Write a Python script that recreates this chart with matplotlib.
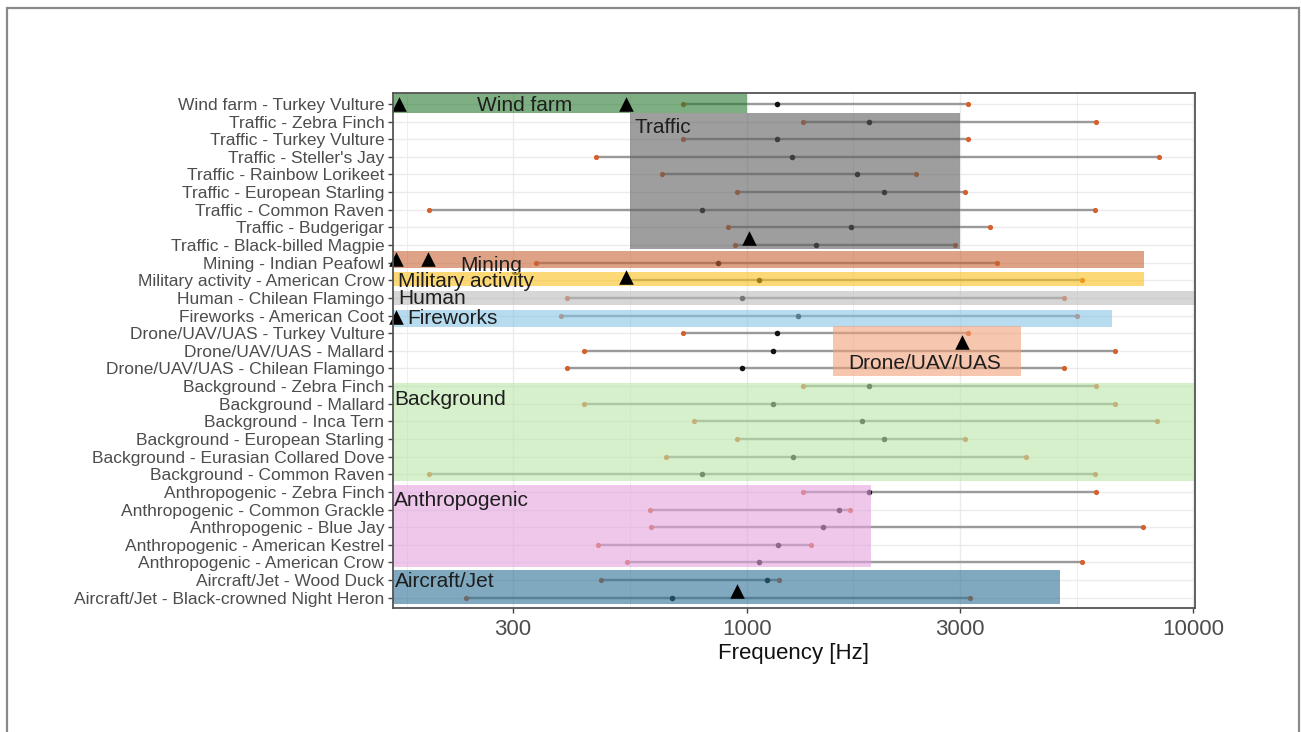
import numpy as np
import matplotlib
matplotlib.use("Agg")
import matplotlib.pyplot as plt
from matplotlib.patches import Rectangle

# ---------------- data (rows listed top to bottom) ----------------
row_labels = [
    "Wind farm - Turkey Vulture",
    "Traffic - Zebra Finch",
    "Traffic - Turkey Vulture",
    "Traffic - Steller's Jay",
    "Traffic - Rainbow Lorikeet",
    "Traffic - European Starling",
    "Traffic - Common Raven",
    "Traffic - Budgerigar",
    "Traffic - Black-billed Magpie",
    "Mining - Indian Peafowl",
    "Military activity - American Crow",
    "Human - Chilean Flamingo",
    "Fireworks - American Coot",
    "Drone/UAV/UAS - Turkey Vulture",
    "Drone/UAV/UAS - Mallard",
    "Drone/UAV/UAS - Chilean Flamingo",
    "Background - Zebra Finch",
    "Background - Mallard",
    "Background - Inca Tern",
    "Background - European Starling",
    "Background - Eurasian Collared Dove",
    "Background - Common Raven",
    "Anthropogenic - Zebra Finch",
    "Anthropogenic - Common Grackle",
    "Anthropogenic - Blue Jay",
    "Anthropogenic - American Kestrel",
    "Anthropogenic - American Crow",
    "Aircraft/Jet - Wood Duck",
    "Aircraft/Jet - Black-crowned Night Heron",
]
hear_min = [719, 1335, 719, 459, 648, 950, 194, 907, 942, 337, 540, 397, 385,
            719, 432, 397, 1335, 432, 763, 950, 660, 194, 1335, 607, 611, 465,
            540, 471, 235]
hear_peak = [1170, 1882, 1170, 1262, 1769, 2027, 793, 1710, 1430, 864, 1064,
             976, 1305, 1170, 1144, 976, 1882, 1144, 1809, 2027, 1272, 793,
             1882, 1609, 1484, 1177, 1064, 1109, 679]
hear_max = [3135, 6046, 3135, 8365, 2398, 3082, 6024, 3505, 2922, 3628, 5625,
            5143, 5501, 3135, 6689, 5143, 6046, 6689, 8292, 3082, 4214, 6024,
            6046, 1703, 7702, 1393, 5625, 1181, 3162]

# noise-source frequency bands (None = extends to the panel edge)
noise_names = ["Wind farm", "Traffic", "Mining", "Military activity", "Human",
               "Fireworks", "Drone/UAV/UAS", "Background", "Anthropogenic",
               "Aircraft/Jet"]
noise_fmin = [None, 548, None, None, None, None, 1563, None, None, None]
noise_fmax = [1000, 3000, 7750, 7750, None, 6585, 4108, None, 1900, 5030]
noise_ylo = [28.49, 20.76, 19.67, 18.67, 17.59, 16.36, 13.57, 7.60, 2.73, 0.63]
noise_yhi = [29.80, 28.49, 20.65, 19.48, 18.40, 17.31, 16.40, 13.20, 7.41, 2.55]
noise_label_x = [249, 562, 229, 166, 166, 174, 1689, 163, 162, 163]
noise_label_y = [28.58, 27.34, 19.53, 18.63, 17.63, 16.54, 13.97, 11.90, 6.18, 1.62]

# noise peak frequencies (triangles)
peak_group = ["Wind farm", "Wind farm", "Traffic", "Mining", "Mining",
              "Military activity", "Fireworks", "Drone/UAV/UAS", "Aircraft/Jet"]
peak_freq = [167, 538, 1013, 164, 193, 538, 164, 3030, 950]
peak_y = [29.0, 29.0, 21.41, 20.23, 20.23, 19.18, 16.93, 15.48, 1.36]

# ---------------- styles ----------------
band_colors = {
    "Wind farm": "#267a2f",
    "Traffic": "#5d5d5d",
    "Mining": "#c86437",
    "Military activity": "#fac11b",
    "Human": "#bbbbbb",
    "Fireworks": "#87c5e6",
    "Drone/UAV/UAS": "#f0a078",
    "Background": "#bbe6aa",
    "Anthropogenic": "#e3a3df",
    "Aircraft/Jet": "#2b6e93",
}
FONT = "Liberation Sans"
plt.rcParams["font.family"] = [FONT, "DejaVu Sans"]

W, H, DPI = 1301, 732, 100
fig = plt.figure(figsize=(W / DPI, H / DPI), dpi=DPI)
fig.patch.set_facecolor("white")

# outer frame
fig.patches.append(Rectangle((7 / W, -0.05), (1299 - 7) / W, (H - 8) / H + 0.05,
                             transform=fig.transFigure, fill=False,
                             ec="#8a8a8a", lw=1.6, zorder=0))

left, right, top, bottom = 392.7, 1195, 93.3, 608.3
ax = fig.add_axes([left / W, 1 - bottom / H, (right - left) / W, (bottom - top) / H])

n = len(row_labels)
ys = np.array([n - i for i in range(n)], dtype=float)

ax.set_xscale("log")
xlo, xhi = 161.3, 10088
ax.set_xlim(xlo, xhi)
ax.set_ylim(0.4, n + 0.6)

# grid
ax.set_xticks([300, 1000, 3000, 10000])
ax.set_xticklabels(["300", "1000", "3000", "10000"])
ax.set_xticks([173.2, 547.7, 1732, 5477], minor=True)
ax.set_yticks(ys)
ax.set_yticklabels(row_labels)
ax.grid(which="major", color="#ebebeb", lw=1.0, zorder=0)
ax.grid(which="minor", axis="x", color="#ebebeb", lw=0.6, zorder=0)
ax.set_axisbelow(True)

# segments and points
for y, lo, pk, hi in zip(ys, hear_min, hear_peak, hear_max):
    ax.plot([lo, hi], [y, y], color="#9a9a9a", lw=1.7, solid_capstyle="butt", zorder=2)
ax.scatter(hear_min, ys, s=14, color="#d4602c", zorder=3, linewidths=0)
ax.scatter(hear_max, ys, s=14, color="#d4602c", zorder=3, linewidths=0)
ax.scatter(hear_peak, ys, s=16, color="#111111", zorder=3, linewidths=0)

# bands + labels (drawn top to bottom so later bands overlay earlier text)
for k, name in enumerate(noise_names):
    x0 = noise_fmin[k] if noise_fmin[k] is not None else xlo * 0.5
    x1 = noise_fmax[k] if noise_fmax[k] is not None else xhi * 2
    z = 4 + 2 * k
    ax.add_patch(Rectangle((x0, noise_ylo[k]), x1 - x0, noise_yhi[k] - noise_ylo[k],
                           facecolor=band_colors[name], alpha=0.6, lw=0, zorder=z))
    ax.text(noise_label_x[k], noise_label_y[k], name, ha="left", va="baseline",
            fontsize=15, color="#1e1e1e", zorder=z + 1)

ax.scatter(peak_freq, peak_y, marker="^", s=110, color="black", zorder=40,
           linewidths=0, clip_on=False)

# axes styling
for s in ax.spines.values():
    s.set_color("#555555")
    s.set_linewidth(1.3)
    s.set_zorder(50)
ax.tick_params(axis="y", which="major", length=3.5, width=1, color="#444444",
               labelsize=12.5, labelcolor="#4d4d4d", pad=2.5)
ax.tick_params(axis="x", which="major", length=3.5, width=1, color="#444444",
               labelsize=16, labelcolor="#4d4d4d", pad=4.5)
ax.tick_params(axis="x", which="minor", length=0)
ax.set_xlabel("Frequency [Hz]", fontsize=16, color="#111111", labelpad=2)

fig.savefig("out.png", dpi=DPI)
